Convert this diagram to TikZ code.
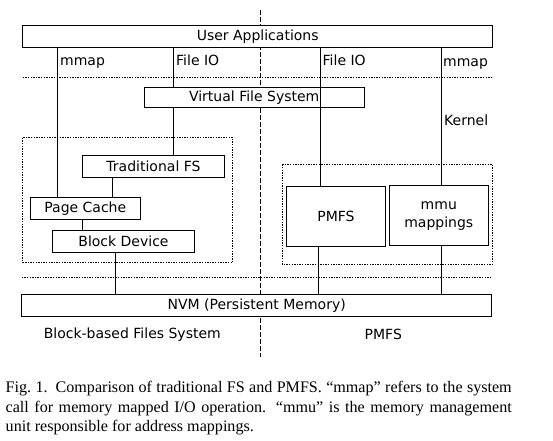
\documentclass[tikz,border=0pt]{standalone}
\usepackage{fontspec}
\setmainfont{DejaVu Sans}
\newfontfamily\capfont[Ligatures=TeX]{Liberation Serif}
\usetikzlibrary{positioning}
\tikzstyle{layer} = [rectangle, draw=black, line width=0.9pt, fill=white, inner sep=0pt, text centered, font=\fontsize{14}{18.3}\selectfont]
\tikzstyle{lbl} = [inner sep=0pt, anchor=base west, font=\fontsize{14}{16}\selectfont]
\tikzstyle{conn} = [line width=0.9pt]
\tikzstyle{group} = [line width=0.8pt, dash pattern=on 1.4pt off 1.2pt]
\tikzstyle{split} = [line width=0.8pt, dash pattern=on 5pt off 2pt]

\begin{document}
\begin{tikzpicture}[x=1pt,y=-1pt]
            \useasboundingbox (0,0) rectangle (553,440);
            % groups and kernel border
            \draw [group] (22.7,137.7) rectangle (232.7,262.7);
            \draw [group] (282.3,164.3) rectangle (492.3,264.3);
            \draw [group] (22.7,77.3) -- (491.7,77.3);
            \draw [group] (21.7,277.7) -- (491.7,277.7);
            \draw [split] (260.7,10) -- (260.7,357);

            \node (ua) [layer, minimum width=470pt, minimum height=22.7pt] at (257.7,36.3) {User Applications};
            \node (vfs) [layer, minimum width=220.3pt, minimum height=20pt] at (254.2,97.3) {Virtual File System};
            \node (tfs) [layer, minimum width=141.6pt, minimum height=22.3pt] at (153.5,166.2) {Traditional FS};
            \node (pc) [layer, minimum width=110.7pt, minimum height=22pt] at (85.3,208.3) {Page Cache};
            \node (bd) [layer, minimum width=141.6pt, minimum height=22.3pt] at (123.5,241.2) {Block Device};
            \node (pmfs) [layer, minimum width=98.6pt, minimum height=60.7pt] at (336,216.3) {PMFS};
            \node (mmu) [layer, minimum width=99pt, minimum height=60pt, align=center] at (438.8,215.7) {mmu\\mappings};
            \node (nvm) [layer, minimum width=470pt, minimum height=22.7pt] at (256.7,305.3) {NVM (Persistent Memory)};

            \draw [conn] ([xshift=28.3pt]pc.north west) -- ([xshift=28.3pt]pc.north west |- ua.south);
            \draw [conn] ([xshift=30.3pt]vfs.north west) -- ([xshift=30.3pt]vfs.north west |- ua.south);
            \draw [conn] ([xshift=30.3pt]vfs.south west) -- ([xshift=30.3pt]vfs.south west |- tfs.north);
            \draw [conn] ([xshift=34.3pt]pmfs.north west) -- ([xshift=34.3pt]pmfs.north west |- ua.south);
            \draw [conn] ([xshift=52.4pt]mmu.north west) -- ([xshift=52.4pt]mmu.north west |- ua.south);
            \draw [conn] ([xshift=30pt]tfs.south west) -- ([xshift=30pt]tfs.south west |- pc.north);
            \draw [conn] ([xshift=53.3pt]pc.south west) -- ([xshift=53.3pt]pc.south west |- bd.north);
            \draw [conn] ([xshift=63.3pt]bd.south west) -- ([xshift=63.3pt]bd.south west |- nvm.north);
            \draw [conn] ([xshift=32.3pt]pmfs.south west) -- ([xshift=32.3pt]pmfs.south west |- nvm.north);
            \draw [conn] ([xshift=53pt]mmu.south west) -- ([xshift=53pt]mmu.south west |- nvm.north);

            \node (mmapl) [lbl] at (60,65.3) {mmap};
            \node (fiol) [lbl] at (176,65) {File IO};
            \node (fior) [lbl] at (322.5,65) {File IO};
            \node (mmapr) [lbl] at (443,66.5) {mmap};
            \node (kern) [lbl] at (444,125.3) {Kernel};
            \node (bbfs) [lbl, anchor=center] at (132.3,334.3) {Block-based Files System};
            \node (pmfsl) [lbl, anchor=center] at (383.3,334.3) {PMFS};

            \node (cap) [anchor=north west, inner sep=0pt, text width=506pt, align=justify, font=\capfont\fontsize{16.1}{19.6}\selectfont] at (5.5,381) {Fig.~1.\enskip Comparison of traditional FS and PMFS. “mmap” refers to the system call for memory mapped I/O operation. “mmu” is the memory management unit responsible for address mappings.};
        \end{tikzpicture}
\end{document}
